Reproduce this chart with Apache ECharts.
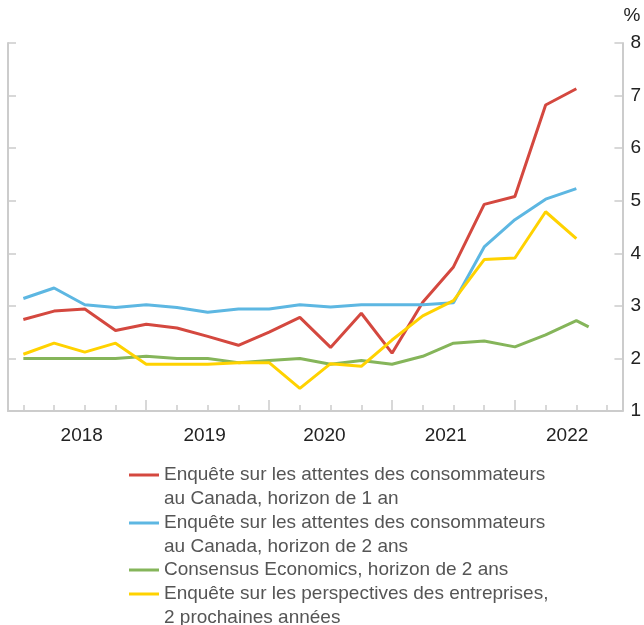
<!DOCTYPE html>
<html>
<head>
<meta charset="utf-8">
<script src="https://cdn.jsdelivr.net/npm/echarts@6/dist/echarts.min.js"></script>
<style>
  html, body { margin: 0; padding: 0; background: #fff; }
  #main { width: 644px; height: 625px; }
</style>
</head>
<body>
<div id="main"></div>
<script type="text/javascript">
    // trimestres : 0 = 2018 T1 ... 19 = 2022 T4
    var quarters = [0, 1, 2, 3, 4, 5, 6, 7, 8, 9, 10, 11, 12, 13, 14, 15, 16, 17, 18];
    var yearLabelPos = [1.9, 5.9, 9.8, 13.75, 17.7];
    var yearTicks = [4, 8, 12, 16];
    var quarterTicks = [0, 1, 2, 3, 4, 5, 6, 7, 8, 9, 10, 11, 12, 13, 14, 15, 16, 17, 18, 19];

    var names = [
        'Enquête sur les attentes des consommateurs\nau Canada, horizon de 1 an',
        'Enquête sur les attentes des consommateurs\nau Canada, horizon de 2 ans',
        'Consensus Economics, horizon de 2 ans',
        'Enquête sur les perspectives des entreprises,\n2 prochaines années'
    ];

    var cesUn = [2.74, 2.90, 2.94, 2.53, 2.65, 2.58, 2.42, 2.25, 2.50, 2.78, 2.21, 2.86, 2.10, 3.07, 3.74, 4.93, 5.08, 6.82, 7.13];
    var cesDeux = [3.14, 3.34, 3.02, 2.97, 3.02, 2.97, 2.88, 2.94, 2.94, 3.02, 2.98, 3.02, 3.02, 3.02, 3.06, 4.12, 4.64, 5.03, 5.23];
    var consensusX = [0, 1, 2, 3, 4, 5, 6, 7, 8, 9, 10, 11, 12, 13, 14, 15, 16, 17, 18, 18.4];
    var consensus = [2.00, 2.00, 2.00, 2.00, 2.04, 2.00, 2.00, 1.92, 1.96, 2.00, 1.89, 1.96, 1.89, 2.04, 2.29, 2.33, 2.22, 2.45, 2.72, 2.60];
    var bos = [2.08, 2.29, 2.12, 2.29, 1.89, 1.89, 1.89, 1.92, 1.92, 1.43, 1.90, 1.85, 2.35, 2.81, 3.10, 3.88, 3.91, 4.79, 4.28];

    var colors = ['#d4483f', '#5db7e2', '#85b55a', '#ffd200'];

    function pairs(xs, ys) {
        return ys.map(function (v, i) { return [xs[i], v]; });
    }

    var axisGray = '#cccccc';
    var font = '"Liberation Sans", Arial, Helvetica, sans-serif';

    // une légende par série : l'icône est alignée sur la première ligne du texte
    function legendFor(i, top, twoLines) {
        return {
            data: [names[i]],
            left: 129,
            top: top,
            padding: 0,
            icon: 'rect',
            itemWidth: 30,
            itemHeight: 3,
            itemGap: 6,
            selectedMode: false,
            formatter: function (n) { return twoLines ? '\n' + n : n; },
            textStyle: {
                fontFamily: font,
                fontSize: 19,
                color: '#555555',
                lineHeight: 24
            }
        };
    }

    var myChart = echarts.init(document.getElementById('main'));
    var option = {
        animation: false,
        color: colors,
        textStyle: { fontFamily: font },
        grid: { left: 8, right: 17, top: 43, bottom: 214, containLabel: false },
        legend: [
            legendFor(0, 439, true),
            legendFor(1, 487, true),
            legendFor(2, 558, false),
            legendFor(3, 558, true)
        ],
        xAxis: [{
            type: 'value',
            min: -0.5,
            max: 19.5,
            splitLine: { show: false },
            axisLine: { show: true, onZero: false, lineStyle: { color: axisGray, width: 2 } },
            axisTick: { show: true, inside: true, length: 6, customValues: quarterTicks, lineStyle: { color: axisGray, width: 1.5 } },
            axisLabel: {
                customValues: yearLabelPos,
                margin: 15,
                fontSize: 19,
                color: '#222222',
                formatter: function (v) { return String(2018 + Math.floor(v / 4)); }
            }
        }, {
            type: 'value',
            min: -0.5,
            max: 19.5,
            position: 'bottom',
            splitLine: { show: false },
            axisLine: { show: false, onZero: false },
            axisTick: { show: true, inside: true, length: 11, customValues: yearTicks, lineStyle: { color: axisGray, width: 1.5 } },
            axisLabel: { show: false }
        }],
        yAxis: [{
            type: 'value',
            position: 'right',
            min: 1,
            max: 8,
            interval: 1,
            name: '%',
            nameLocation: 'end',
            nameGap: 18,
            nameTextStyle: { fontSize: 19, color: '#222222', align: 'left', padding: [0, 0, 0, 1] },
            splitLine: { show: false },
            axisLine: { show: true, onZero: false, lineStyle: { color: axisGray, width: 2 } },
            axisTick: { show: true, inside: true, length: 8, lineStyle: { color: axisGray, width: 1.5 } },
            axisLabel: { margin: 8, fontSize: 19, color: '#222222' }
        }, {
            type: 'value',
            position: 'left',
            min: 1,
            max: 8,
            interval: 1,
            splitLine: { show: false },
            axisLine: { show: true, onZero: false, lineStyle: { color: axisGray, width: 2 } },
            axisTick: { show: true, inside: true, length: 8, lineStyle: { color: axisGray, width: 1.5 } },
            axisLabel: { show: false }
        }],
        series: [{
            name: names[0],
            type: 'line',
            data: pairs(quarters, cesUn),
            showSymbol: false,
            lineStyle: { width: 3 }
        }, {
            name: names[1],
            type: 'line',
            data: pairs(quarters, cesDeux),
            showSymbol: false,
            lineStyle: { width: 3 }
        }, {
            name: names[2],
            type: 'line',
            data: pairs(consensusX, consensus),
            showSymbol: false,
            lineStyle: { width: 3 }
        }, {
            name: names[3],
            type: 'line',
            data: pairs(quarters, bos),
            showSymbol: false,
            lineStyle: { width: 3 }
        }]
    };
    myChart.setOption(option);
</script>
</body>
</html>
